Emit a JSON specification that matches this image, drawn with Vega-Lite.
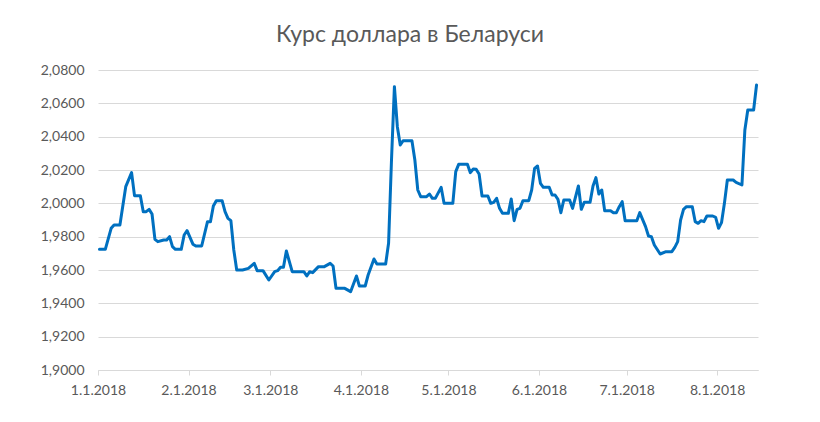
{
  "$schema": "https://vega.github.io/schema/vega-lite/v6.json",
  "width": 660,
  "height": 300,
  "autosize": "none",
  "padding": {"left": 98, "top": 70, "right": 62, "bottom": 52},
  "background": "white",
  "title": {
    "text": "Курс доллара в Беларуси",
    "font": "Lato",
    "fontSize": 23,
    "fontWeight": "normal",
    "color": "#595959",
    "anchor": "middle",
    "dx": -18,
    "dy": 26,
    "baseline": "alphabetic",
    "offset": 24
  },
  "data": {
    "format": {"parse": {"date": "date:'%Y-%m-%d'"}},
    "values": [
      {"date": "2018-01-01", "rate": 1.9724},
      {"date": "2018-01-03", "rate": 1.9724},
      {"date": "2018-01-05", "rate": 1.9850},
      {"date": "2018-01-06", "rate": 1.9870},
      {"date": "2018-01-08", "rate": 1.9870},
      {"date": "2018-01-10", "rate": 2.0100},
      {"date": "2018-01-12", "rate": 2.0184},
      {"date": "2018-01-13", "rate": 2.0046},
      {"date": "2018-01-15", "rate": 2.0046},
      {"date": "2018-01-16", "rate": 1.9950},
      {"date": "2018-01-17", "rate": 1.9950},
      {"date": "2018-01-18", "rate": 1.9964},
      {"date": "2018-01-19", "rate": 1.9936},
      {"date": "2018-01-20", "rate": 1.9784},
      {"date": "2018-01-21", "rate": 1.9770},
      {"date": "2018-01-23", "rate": 1.9780},
      {"date": "2018-01-24", "rate": 1.9780},
      {"date": "2018-01-25", "rate": 1.9800},
      {"date": "2018-01-26", "rate": 1.9740},
      {"date": "2018-01-27", "rate": 1.9724},
      {"date": "2018-01-29", "rate": 1.9724},
      {"date": "2018-01-30", "rate": 1.9810},
      {"date": "2018-01-31", "rate": 1.9836},
      {"date": "2018-02-01", "rate": 1.9796},
      {"date": "2018-02-02", "rate": 1.9755},
      {"date": "2018-02-03", "rate": 1.9744},
      {"date": "2018-02-05", "rate": 1.9744},
      {"date": "2018-02-07", "rate": 1.9890},
      {"date": "2018-02-08", "rate": 1.9890},
      {"date": "2018-02-09", "rate": 1.9984},
      {"date": "2018-02-10", "rate": 2.0016},
      {"date": "2018-02-12", "rate": 2.0016},
      {"date": "2018-02-13", "rate": 1.9950},
      {"date": "2018-02-14", "rate": 1.9910},
      {"date": "2018-02-15", "rate": 1.9896},
      {"date": "2018-02-16", "rate": 1.9720},
      {"date": "2018-02-17", "rate": 1.9600},
      {"date": "2018-02-19", "rate": 1.9600},
      {"date": "2018-02-21", "rate": 1.9610},
      {"date": "2018-02-23", "rate": 1.9640},
      {"date": "2018-02-24", "rate": 1.9596},
      {"date": "2018-02-26", "rate": 1.9596},
      {"date": "2018-02-28", "rate": 1.9540},
      {"date": "2018-03-02", "rate": 1.9590},
      {"date": "2018-03-03", "rate": 1.9596},
      {"date": "2018-03-04", "rate": 1.9616},
      {"date": "2018-03-05", "rate": 1.9616},
      {"date": "2018-03-06", "rate": 1.9714},
      {"date": "2018-03-08", "rate": 1.9590},
      {"date": "2018-03-12", "rate": 1.9590},
      {"date": "2018-03-13", "rate": 1.9564},
      {"date": "2018-03-14", "rate": 1.9590},
      {"date": "2018-03-15", "rate": 1.9584},
      {"date": "2018-03-17", "rate": 1.9620},
      {"date": "2018-03-19", "rate": 1.9620},
      {"date": "2018-03-21", "rate": 1.9640},
      {"date": "2018-03-22", "rate": 1.9624},
      {"date": "2018-03-23", "rate": 1.9490},
      {"date": "2018-03-26", "rate": 1.9490},
      {"date": "2018-03-28", "rate": 1.9470},
      {"date": "2018-03-30", "rate": 1.9564},
      {"date": "2018-03-31", "rate": 1.9504},
      {"date": "2018-04-02", "rate": 1.9504},
      {"date": "2018-04-03", "rate": 1.9570},
      {"date": "2018-04-05", "rate": 1.9666},
      {"date": "2018-04-06", "rate": 1.9636},
      {"date": "2018-04-09", "rate": 1.9636},
      {"date": "2018-04-10", "rate": 1.9760},
      {"date": "2018-04-11", "rate": 2.0260},
      {"date": "2018-04-12", "rate": 2.0700},
      {"date": "2018-04-13", "rate": 2.0460},
      {"date": "2018-04-14", "rate": 2.0350},
      {"date": "2018-04-15", "rate": 2.0376},
      {"date": "2018-04-18", "rate": 2.0376},
      {"date": "2018-04-19", "rate": 2.0260},
      {"date": "2018-04-20", "rate": 2.0080},
      {"date": "2018-04-21", "rate": 2.0040},
      {"date": "2018-04-23", "rate": 2.0040},
      {"date": "2018-04-24", "rate": 2.0056},
      {"date": "2018-04-25", "rate": 2.0030},
      {"date": "2018-04-26", "rate": 2.0030},
      {"date": "2018-04-28", "rate": 2.0096},
      {"date": "2018-04-29", "rate": 2.0000},
      {"date": "2018-05-02", "rate": 2.0000},
      {"date": "2018-05-03", "rate": 2.0190},
      {"date": "2018-05-04", "rate": 2.0234},
      {"date": "2018-05-07", "rate": 2.0234},
      {"date": "2018-05-08", "rate": 2.0184},
      {"date": "2018-05-09", "rate": 2.0206},
      {"date": "2018-05-10", "rate": 2.0204},
      {"date": "2018-05-11", "rate": 2.0176},
      {"date": "2018-05-12", "rate": 2.0044},
      {"date": "2018-05-14", "rate": 2.0044},
      {"date": "2018-05-15", "rate": 2.0000},
      {"date": "2018-05-16", "rate": 2.0006},
      {"date": "2018-05-17", "rate": 2.0030},
      {"date": "2018-05-18", "rate": 1.9970},
      {"date": "2018-05-19", "rate": 1.9940},
      {"date": "2018-05-21", "rate": 1.9940},
      {"date": "2018-05-22", "rate": 2.0026},
      {"date": "2018-05-23", "rate": 1.9896},
      {"date": "2018-05-24", "rate": 1.9964},
      {"date": "2018-05-25", "rate": 1.9970},
      {"date": "2018-05-26", "rate": 2.0016},
      {"date": "2018-05-28", "rate": 2.0016},
      {"date": "2018-05-29", "rate": 2.0080},
      {"date": "2018-05-30", "rate": 2.0210},
      {"date": "2018-05-31", "rate": 2.0224},
      {"date": "2018-06-01", "rate": 2.0120},
      {"date": "2018-06-02", "rate": 2.0096},
      {"date": "2018-06-04", "rate": 2.0096},
      {"date": "2018-06-05", "rate": 2.0050},
      {"date": "2018-06-06", "rate": 2.0050},
      {"date": "2018-06-07", "rate": 2.0024},
      {"date": "2018-06-08", "rate": 1.9944},
      {"date": "2018-06-09", "rate": 2.0020},
      {"date": "2018-06-11", "rate": 2.0020},
      {"date": "2018-06-12", "rate": 1.9970},
      {"date": "2018-06-14", "rate": 2.0104},
      {"date": "2018-06-15", "rate": 1.9964},
      {"date": "2018-06-16", "rate": 2.0006},
      {"date": "2018-06-18", "rate": 2.0006},
      {"date": "2018-06-19", "rate": 2.0104},
      {"date": "2018-06-20", "rate": 2.0154},
      {"date": "2018-06-21", "rate": 2.0056},
      {"date": "2018-06-22", "rate": 2.0080},
      {"date": "2018-06-23", "rate": 1.9956},
      {"date": "2018-06-25", "rate": 1.9956},
      {"date": "2018-06-26", "rate": 1.9944},
      {"date": "2018-06-27", "rate": 1.9944},
      {"date": "2018-06-28", "rate": 1.9980},
      {"date": "2018-06-29", "rate": 2.0010},
      {"date": "2018-06-30", "rate": 1.9896},
      {"date": "2018-07-04", "rate": 1.9896},
      {"date": "2018-07-05", "rate": 1.9944},
      {"date": "2018-07-07", "rate": 1.9860},
      {"date": "2018-07-08", "rate": 1.9804},
      {"date": "2018-07-09", "rate": 1.9800},
      {"date": "2018-07-10", "rate": 1.9750},
      {"date": "2018-07-12", "rate": 1.9696},
      {"date": "2018-07-14", "rate": 1.9710},
      {"date": "2018-07-16", "rate": 1.9710},
      {"date": "2018-07-17", "rate": 1.9736},
      {"date": "2018-07-18", "rate": 1.9770},
      {"date": "2018-07-19", "rate": 1.9900},
      {"date": "2018-07-20", "rate": 1.9964},
      {"date": "2018-07-21", "rate": 1.9980},
      {"date": "2018-07-23", "rate": 1.9980},
      {"date": "2018-07-24", "rate": 1.9890},
      {"date": "2018-07-25", "rate": 1.9880},
      {"date": "2018-07-26", "rate": 1.9896},
      {"date": "2018-07-27", "rate": 1.9890},
      {"date": "2018-07-28", "rate": 1.9924},
      {"date": "2018-07-30", "rate": 1.9924},
      {"date": "2018-07-31", "rate": 1.9916},
      {"date": "2018-08-01", "rate": 1.9850},
      {"date": "2018-08-02", "rate": 1.9884},
      {"date": "2018-08-03", "rate": 2.0000},
      {"date": "2018-08-04", "rate": 2.0140},
      {"date": "2018-08-06", "rate": 2.0140},
      {"date": "2018-08-07", "rate": 2.0126},
      {"date": "2018-08-09", "rate": 2.0110},
      {"date": "2018-08-10", "rate": 2.0440},
      {"date": "2018-08-11", "rate": 2.0560},
      {"date": "2018-08-13", "rate": 2.0560},
      {"date": "2018-08-14", "rate": 2.0710}
    ]
  },
  "mark": {"type": "line", "color": "#0070C0", "strokeWidth": 3, "strokeJoin": "round", "strokeCap": "round"},
  "encoding": {
    "x": {
      "field": "date",
      "type": "temporal",
      "timeUnit": "yearmonthdate",
      "bandPosition": 0.5,
      "title": null,
      "scale": {
        "domain": [
          {"year": 2018, "month": "jan", "date": 1},
          {"year": 2018, "month": "aug", "date": 15}
        ]
      },
      "axis": {
        "values": [
          {"year": 2018, "month": "jan", "date": 1},
          {"year": 2018, "month": "feb", "date": 1},
          {"year": 2018, "month": "mar", "date": 1},
          {"year": 2018, "month": "apr", "date": 1},
          {"year": 2018, "month": "may", "date": 1},
          {"year": 2018, "month": "jun", "date": 1},
          {"year": 2018, "month": "jul", "date": 1},
          {"year": 2018, "month": "aug", "date": 1}
        ],
        "format": "%-m.%-d.%Y",
        "formatType": "time",
        "grid": false,
        "domainColor": "#d9d9d9",
        "domainWidth": 1,
        "tickColor": "#d9d9d9",
        "tickSize": 5,
        "labelFont": "Lato",
        "labelFontSize": 14,
        "labelColor": "#595959",
        "labelPadding": 8,
        "labelFlush": false,
        "labelOverlap": false
      }
    },
    "y": {
      "field": "rate",
      "type": "quantitative",
      "title": null,
      "scale": {"domain": [1.9, 2.08], "nice": false, "zero": false},
      "axis": {
        "values": [1.90, 1.92, 1.94, 1.96, 1.98, 2.00, 2.02, 2.04, 2.06, 2.08],
        "labelExpr": "replace(format(datum.value, '.4f'), '.', ',')",
        "domain": false,
        "ticks": false,
        "grid": true,
        "gridColor": "#d9d9d9",
        "gridWidth": 1,
        "labelFont": "Lato",
        "labelFontSize": 14,
        "labelColor": "#595959",
        "labelPadding": 14
      }
    }
  },
  "config": {
    "view": {"stroke": null}
  }
}
